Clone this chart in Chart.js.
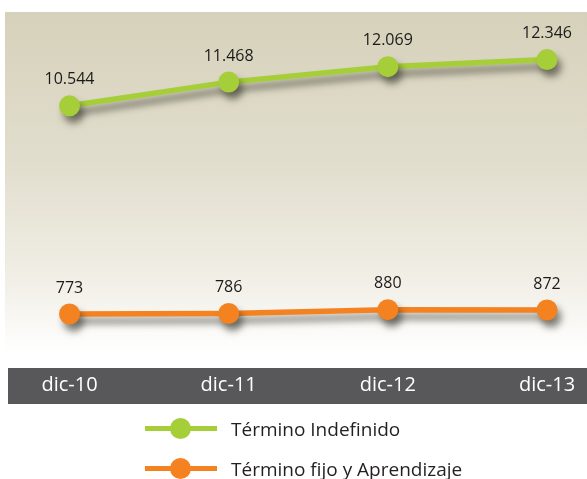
<!DOCTYPE html>
<html>
<head>
<meta charset="utf-8">
<script src="https://cdn.jsdelivr.net/npm/chart.js@4.4.1/dist/chart.umd.min.js"></script>
<style>
  html, body { margin: 0; padding: 0; background: #ffffff; }
  #wrap { position: relative; width: 587px; height: 479px; overflow: hidden; }
  #c { position: absolute; left: 0; top: 0; }
  .lg-row { position: absolute; left: 145px; height: 22px; display: flex; align-items: center;
            font-family: "Open Sans", sans-serif; font-size: 19px; color: #231f20; white-space: nowrap; }
  .lg-icon { position: relative; width: 72px; height: 22px; margin-right: 14px; }
  .lg-line { position: absolute; left: 0; right: 0; top: 8.5px; height: 5px; }
  .lg-dot { position: absolute; left: 25px; top: 0.5px; width: 21px; height: 21px; border-radius: 50%; }
</style>
</head>
<body>
<div id="wrap">
  <canvas id="c" width="587" height="479"></canvas>
  <div id="legend"></div>
</div>
<script>
// ---- data ----
const categories = ['dic-10', 'dic-11', 'dic-12', 'dic-13'];
const indefinido = [10544, 11468, 12069, 12346];
const fijoAprendizaje = [773, 786, 880, 872];
const seriesNames = ['Término Indefinido', 'Término fijo y Aprendizaje'];
const seriesColors = ['#a6ce39', '#f58220'];

function fmt(v) {
  return String(v).replace(/\B(?=(\d{3})+(?!\d))/g, '.');
}

const decorPlugin = {
  id: 'decor',
  beforeDraw(chart) {
    const ctx = chart.ctx;
    const ca = chart.chartArea;
    const xs = chart.scales.x;
    ctx.save();
    // beige backdrop fading to white
    const g = ctx.createLinearGradient(0, ca.top, 0, ca.bottom - 16);
    g.addColorStop(0, '#d6d1ba');
    g.addColorStop(0.45, '#e2dece');
    g.addColorStop(0.8, '#f1efe7');
    g.addColorStop(1, '#ffffff');
    ctx.fillStyle = g;
    ctx.fillRect(5, ca.top, chart.width - 5, ca.bottom - ca.top);
    // dark band behind category labels
    ctx.fillStyle = '#58585a';
    ctx.fillRect(8, xs.top, chart.width - 8, 36);
    ctx.restore();
  },
  beforeDatasetsDraw(chart) {
    const ctx = chart.ctx;
    ctx.save();
    ctx.shadowColor = 'rgba(40,40,30,0.55)';
    ctx.shadowBlur = 7;
    ctx.shadowOffsetX = 4;
    ctx.shadowOffsetY = 7;
  },
  afterDatasetsDraw(chart) {
    const ctx = chart.ctx;
    ctx.restore();
    ctx.save();
    ctx.font = '16px "Open Sans", sans-serif';
    ctx.fillStyle = '#1a1a1a';
    ctx.textAlign = 'center';
    ctx.textBaseline = 'middle';
    chart.data.datasets.forEach((ds, i) => {
      const meta = chart.getDatasetMeta(i);
      meta.data.forEach((pt, j) => {
        ctx.fillText(fmt(ds.data[j]), pt.x, pt.y - 26);
      });
    });
    ctx.restore();
  }
};

new Chart(document.getElementById('c'), {
  type: 'line',
  data: {
    labels: categories,
    datasets: [
      {
        label: seriesNames[0], data: indefinido, yAxisID: 'y',
        borderColor: seriesColors[0], backgroundColor: seriesColors[0],
        borderWidth: 5.5, pointRadius: 10.5, pointBorderWidth: 0,
        pointBackgroundColor: seriesColors[0], tension: 0, clip: false
      },
      {
        label: seriesNames[1], data: fijoAprendizaje, yAxisID: 'y2',
        borderColor: seriesColors[1], backgroundColor: seriesColors[1],
        borderWidth: 5.5, pointRadius: 10.5, pointBorderWidth: 0,
        pointBackgroundColor: seriesColors[1], tension: 0, clip: false
      }
    ]
  },
  options: {
    responsive: false,
    animation: false,
    events: [],
    layout: { padding: { left: 69.5, right: 40, top: 12, bottom: 77 } },
    plugins: { legend: { display: false }, tooltip: { enabled: false } },
    scales: {
      x: {
        type: 'category',
        offset: false,
        grid: { display: false, drawTicks: false },
        border: { display: false },
        ticks: {
          color: '#ffffff', padding: 5, maxRotation: 0, autoSkip: false,
          font: { family: '"Open Sans", sans-serif', size: 20 }
        }
      },
      y: { display: false, min: 320, max: 14202 },
      y2: { display: false, min: -556, max: 8206 }
    }
  },
  plugins: [decorPlugin]
});

// HTML legend built from the series
const legend = document.getElementById('legend');
const rowTops = [417.5, 457.5];
seriesNames.forEach((name, i) => {
  const row = document.createElement('div');
  row.className = 'lg-row';
  row.style.top = rowTops[i] + 'px';
  row.innerHTML = '<div class="lg-icon"><div class="lg-line" style="background:' + seriesColors[i] +
    '"></div><div class="lg-dot" style="background:' + seriesColors[i] + '"></div></div><span>' + name + '</span>';
  legend.appendChild(row);
});
</script>
</body>
</html>
